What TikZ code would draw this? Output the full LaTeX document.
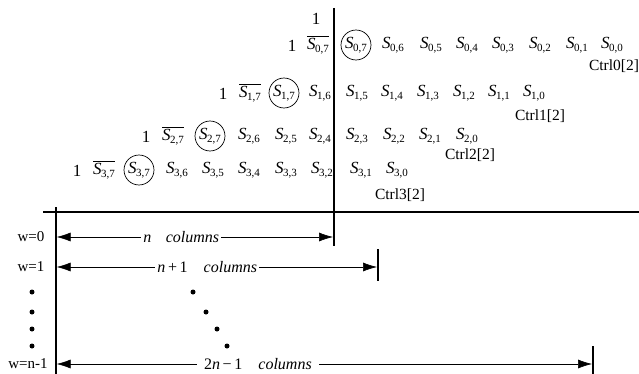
\documentclass[tikz,border=0pt]{standalone}
\usepackage{fontspec}
\setmainfont{Liberation Serif}
\usetikzlibrary{arrows.meta}
\newcommand{\Sx}[2]{\textit{S}\kern-0.6pt\raisebox{-0.45ex}{\fontsize{11}{11}\selectfont #1,#2}}
\newcommand{\Ob}[2]{$\overline{\hbox{\Sx{#1}{#2}}}$}
\tikzset{
  sn/.style={inner sep=0pt, font=\fontsize{17}{19}\selectfont},
  circ/.style={circle, draw, line width=0.7pt, inner sep=1pt},
  ctl/.style={inner sep=0pt, font=\fontsize{15.5}{17}\selectfont},
  wl/.style={inner sep=0pt, font=\fontsize{15}{17}\selectfont},
  dimarrow/.style={line width=0.6pt, {Latex[length=14pt,width=9pt]}-{Latex[length=14pt,width=9pt]}},
  lbl/.style={fill=white, inner sep=2pt, font=\fontsize{16}{18}\selectfont},
  dotn/.style={circle, fill=black, inner sep=0pt, minimum size=5pt},
  rule/.style={line width=1.2pt}
}
\begin{document}
\begin{tikzpicture}[x=1pt,y=-1pt]
\useasboundingbox (0,0) rectangle (639,374);
% row 0
\node[sn] (t0) at (316,19) {1};
\node[sn] (one0) at (292,46) {1};
\node[sn] (b07) at (318,45) {\Ob{0}{7}};
\node[sn,circ] (s07) at (356,45) {\Sx{0}{7}};
\foreach \j/\x in {6/393,5/431,4/467,3/503,2/540,1/577,0/612}
  \node[sn] (s0\j) at (\x,45) {\Sx{0}{\j}};
\node[ctl] (c0) at (614,66) {Ctrl0[2]};
% row 1
\node[sn] (one1) at (223,94) {1};
\node[sn] (b17) at (250,93) {\Ob{1}{7}};
\node[sn,circ] (s17) at (284,93) {\Sx{1}{7}};
\foreach \j/\x in {6/320,5/357,4/392,3/428,2/464,1/499,0/534}
  \node[sn] (s1\j) at (\x,93) {\Sx{1}{\j}};
\node[ctl] (c1) at (540,116) {Ctrl1[2]};
% row 2
\node[sn] (one2) at (146,137) {1};
\node[sn] (b27) at (173,136) {\Ob{2}{7}};
\node[sn,circ] (s27) at (210,136) {\Sx{2}{7}};
\foreach \j/\x in {6/249,5/286,4/320,3/357,2/394,1/430,0/467}
  \node[sn] (s2\j) at (\x,136) {\Sx{2}{\j}};
\node[ctl] (c2) at (470,155) {Ctrl2[2]};
% row 3
\node[sn] (one3) at (77,171) {1};
\node[sn] (b37) at (104,170) {\Ob{3}{7}};
\node[sn,circ] (s37) at (139,170) {\Sx{3}{7}};
\foreach \j/\x in {6/177,5/213,4/249,3/286,2/322,1/361,0/397}
  \node[sn] (s3\j) at (\x,170) {\Sx{3}{\j}};
\node[ctl] (c3) at (400,195) {Ctrl3[2]};
% rules
\coordinate (vt) at (334,8);
\coordinate (vb) at (334,246);
\draw[line width=1.6pt] (vt) -- (vb);
\coordinate (hl) at (43,212);
\coordinate (hr) at (639,212);
\draw[rule] (hl) -- (hr);
\coordinate (lt) at (56,207);
\coordinate (lb) at (56,374);
\draw[rule] (lt) -- (lb);
% ticks
\coordinate (t1a) at (378,249);
\coordinate (t1b) at (378,281);
\draw[rule] (t1a) -- (t1b);
\coordinate (t2a) at (593,346);
\coordinate (t2b) at (593,374);
\draw[rule] (t2a) -- (t2b);
% labels w
\node[wl] (w0) at (31,237) {w=0};
\node[wl] (w1) at (31,267) {w=1};
\node[wl] (wn) at (28,364) {w=n-1};
% arrows
\coordinate (a0l) at (56.6,237);
\coordinate (a0r) at (333,237);
\draw[dimarrow] (a0l) -- node[lbl, pos=0.451] (l0) {\textit{n}\hspace{0.9em}\textit{columns}} (a0r);
\coordinate (a1l) at (56.6,267);
\coordinate (a1r) at (377,267);
\draw[dimarrow] (a1l) -- node[lbl, pos=0.47] (l1) {\textit{n}\,+\,1\hspace{1em}\textit{columns}\hspace{0.8em}} (a1r);
\coordinate (anl) at (56.6,364);
\coordinate (anr) at (592,364);
\draw[dimarrow] (anl) -- node[lbl, pos=0.376, inner xsep=7pt] (ln) {2\textit{n}\,−\,1\hspace{1em}\textit{columns}} (anr);
% dots
\foreach \k/\y in {1/292,2/312,3/329,4/346}
  \node[dotn] (dl\k) at (32,\y) {};
\foreach \k/\x/\y in {1/193/292,2/206/312,3/217/329,4/227/346}
  \node[dotn] (dd\k) at (\x,\y) {};
\end{tikzpicture}
\end{document}
